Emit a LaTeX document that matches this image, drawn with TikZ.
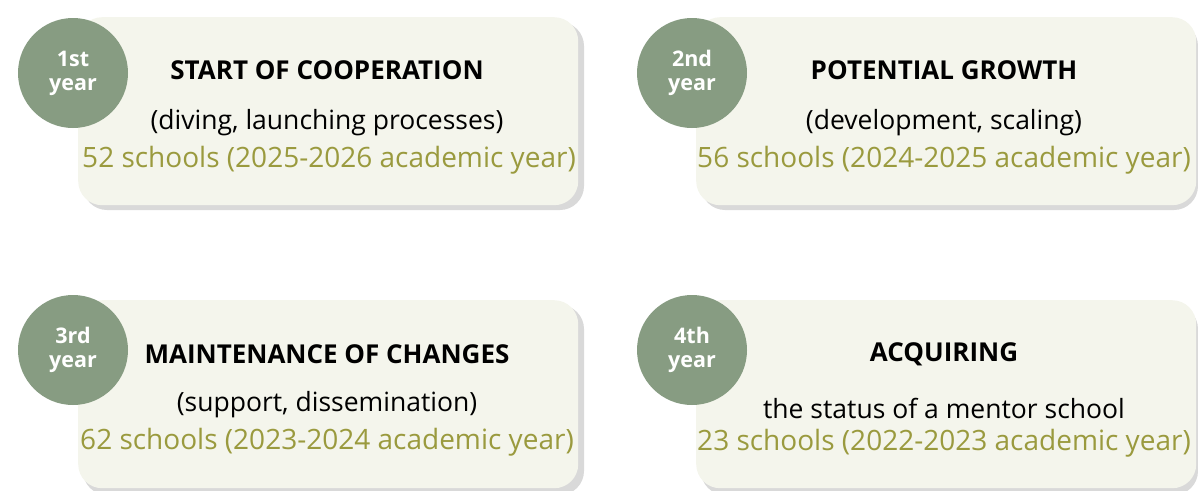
\documentclass[tikz,border=0pt]{standalone}
\usepackage{fontspec}
\setmainfont{Open Sans}
\definecolor{boxfill}{HTML}{F4F5EC}
\definecolor{circfill}{HTML}{879C82}
\definecolor{greentext}{HTML}{9A9A3E}
\definecolor{shadowc}{HTML}{D9D9D9}
\begin{document}
\begin{tikzpicture}[x=1pt,y=-1pt,
  card/.style={fill=boxfill, rounded corners=24pt, minimum width=500pt, minimum height=188pt, inner sep=0pt, anchor=north west},
  shad/.style={fill=shadowc, rounded corners=24pt},
  yearcirc/.style={circle, fill=circfill, minimum size=110pt, inner sep=0pt, text=white, font=\fontsize{21.5}{24}\selectfont\bfseries, align=center},
  ttl/.style={font=\fontsize{26}{30}\selectfont\bfseries, text=black},
  sub/.style={font=\fontsize{26.5}{30}\selectfont, text=black},
  cnt/.style={font=\fontsize{28}{32}\selectfont, text=greentext}
]
\useasboundingbox (0,0) rectangle (1198,490);
% shadows
\fill[shad] (83,22) rectangle (584,210);
\fill[shad] (701,22) rectangle (1198,210);
\fill[shad] (83,305) rectangle (584,495);
\fill[shad] (701,305) rectangle (1198,495);
% cards
\node[card] (c1) at (78,17) {};
\node[card] (c2) at (696,17) {};
\node[card] (c3) at (78,300) {};
\node[card] (c4) at (696,300) {};
% circles
\node[yearcirc] (y1) at (73,73) {1st\\year};
\node[yearcirc] (y2) at (692,73) {2nd\\year};
\node[yearcirc] (y3) at (73,350) {3rd\\year};
\node[yearcirc] (y4) at (692,350) {4th\\year};
% texts
\node[ttl] (t1) at (327,70) {START OF COOPERATION};
\node[sub] (s1) at (327,123) {(diving, launching processes)};
\node[cnt] (n1) at (329,160) {52 schools (2025-2026 academic year)};
\node[ttl] (t2) at (944,70) {POTENTIAL GROWTH};
\node[sub] (s2) at (944,123) {(development, scaling)};
\node[cnt] (n2) at (944,160) {56 schools (2024-2025 academic year)};
\node[ttl] (t3) at (327,354) {MAINTENANCE OF CHANGES};
\node[sub] (s3) at (327,405) {(support, dissemination)};
\node[cnt] (n3) at (327,442) {62 schools (2023-2024 academic year)};
\node[ttl] (t4) at (944,354) {ACQUIRING};
\node[sub] (s4) at (944,408) {the status of a mentor school};
\node[cnt] (n4) at (944,443) {23 schools (2022-2023 academic year)};
\end{tikzpicture}
\end{document}
